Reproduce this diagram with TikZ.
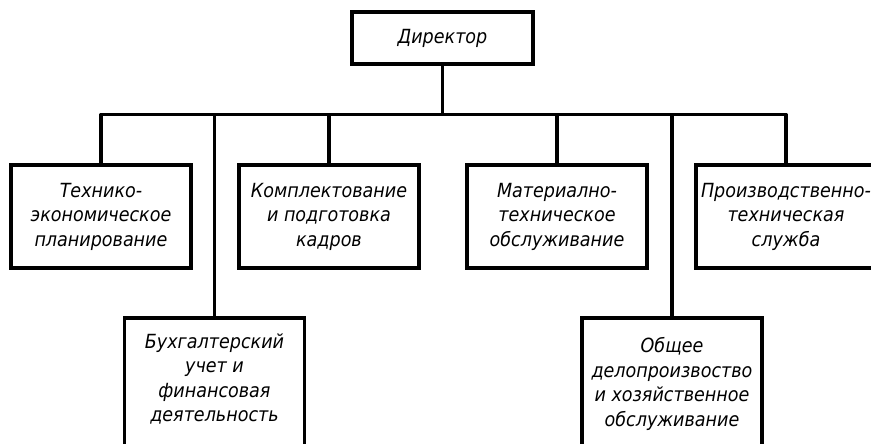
\documentclass[tikz,border=0pt]{standalone}
\usepackage{fontspec}
\newfontfamily\gost{DejaVu Sans Condensed Oblique}
\begin{document}
\begin{tikzpicture}[x=1pt,y=-1pt,
  every node/.style={font=\gost\fontsize{19.5}{24.5}\selectfont},
  unit/.style={draw, line width=3.5pt, rectangle, inner sep=0pt,
    minimum width=180pt, minimum height=103pt, align=center},
  lowunit/.style={draw, line width=3.5pt, rectangle, inner sep=0pt,
    minimum width=180pt, minimum height=136pt},
  txt/.style={align=center, inner sep=0pt},
  link/.style={line width=3.5pt, line join=round}]
\useasboundingbox (0,0) rectangle (871,444);
\clip (0,0) rectangle (871,444);
% director
\node[draw, line width=3.5pt, rectangle, inner sep=0pt,
  minimum width=181pt, minimum height=52pt] (dir) at (442.5,38) {Директор};
% bus
\coordinate (bus) at (442.5,114.5);
% top row
\node[unit] (A) at (101,216.5) {Технико-\\экономическое\\планирование};
\node[unit] (C) at (329,216.5) {Комплектование\\и подготовка\\кадров};
\node[unit] (D) at (557,216.5) {Материално-\\техническое\\обслуживание};
\node[unit] (F) at (786,216.5) {Производственно-\\техническая\\служба};
% bottom row
\node[lowunit] (B) at (214.5,386) {};
\node[txt] (Bt) at (214.5,379) {Бухгалтерский\\учет и\\финансовая\\деятельность};
\node[lowunit] (E) at (672,386) {};
\node[txt] (Et) at (672,384) {Общее\\делопроизвоство\\и хозяйственное\\обслуживание};
% connectors
\draw[link] (dir.south) -- (bus);
\draw[link] (A.north) -- (A.north |- bus) -- (F.north |- bus) -- (F.north);
\draw[link] (B.north) -- (B.north |- bus);
\draw[link] (C.north) -- (C.north |- bus);
\draw[link] (D.north) -- (D.north |- bus);
\draw[link] (E.north) -- (E.north |- bus);
\end{tikzpicture}
\end{document}
